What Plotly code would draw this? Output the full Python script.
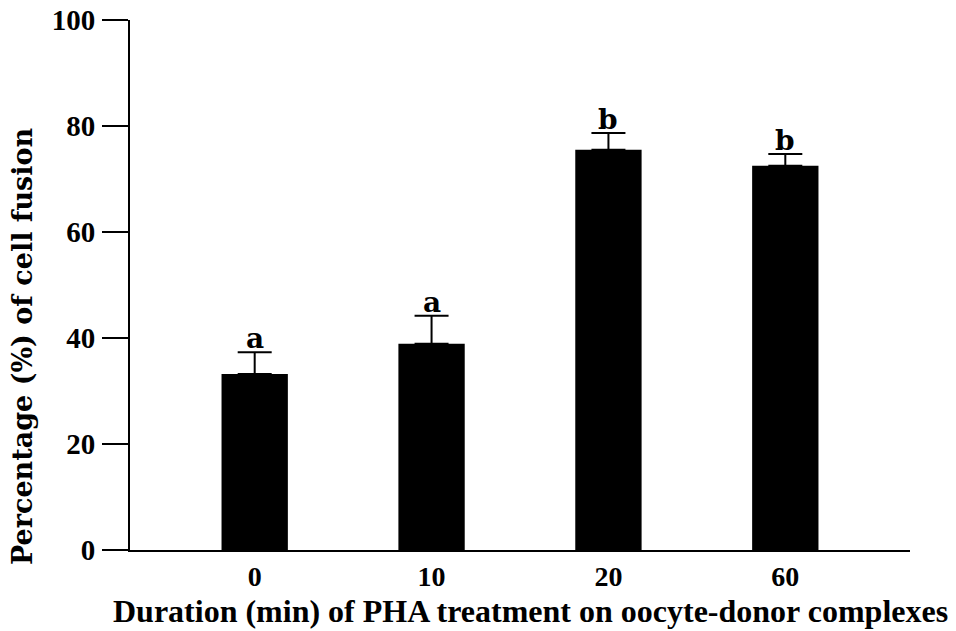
import plotly.graph_objects as go

categories = ["0", "10", "20", "60"]
means = [33.2, 38.9, 75.5, 72.5]
sem = [4.1, 5.3, 3.2, 2.2]
letters = ["a", "a", "b", "b"]

SERIF_W = "DejaVu Serif"
SERIF_N = "Liberation Serif"

fig = go.Figure()
fig.add_trace(go.Bar(
    x=categories, y=means, width=0.375,
    marker=dict(color="black", line=dict(color="black", width=0)),
    error_y=dict(type="data", symmetric=False, array=sem, arrayminus=[0]*len(sem),
                 color="black", thickness=2, width=17),
))
for i, (m, s, l) in enumerate(zip(means, sem, letters)):
    fig.add_annotation(x=i, xref="x", y=m + s, yref="y", text=l, showarrow=False,
                       yanchor="bottom", yshift=-5,
                       font=dict(family=SERIF_W, size=28, color="black", weight="bold"))

fig.add_annotation(text="Duration (min) of PHA treatment on oocyte-donor complexes",
                   xref="paper", yref="paper", x=0.5, y=0, xshift=10, yshift=-81,
                   xanchor="center", yanchor="bottom", showarrow=False,
                   font=dict(family=SERIF_N, size=32, color="black", weight="bold"))
fig.add_annotation(text="Percentage (%) of cell fusion",
                   xref="paper", yref="paper", x=0, y=0.5, xshift=-108, yshift=-61,
                   xanchor="center", yanchor="middle", textangle=-90, showarrow=False,
                   font=dict(family=SERIF_W, size=27, color="black", weight="bold"))

fig.update_layout(
    width=956, height=631,
    margin=dict(l=122, r=54, t=12, b=89),
    plot_bgcolor="white", paper_bgcolor="white",
    showlegend=False,
    xaxis=dict(type="category", range=[-0.705, 3.705], showline=True, linecolor="black",
               linewidth=2, ticks="", showgrid=False, zeroline=False, automargin=False,
               ticklabelstandoff=0,
               tickfont=dict(family=SERIF_N, size=28, color="black", weight="bold")),
    yaxis=dict(range=[0, 100], tickvals=[0, 20, 40, 60, 80, 100], showline=True,
               linecolor="black", linewidth=2, ticks="outside", ticklen=26, tickwidth=2,
               tickcolor="black", showgrid=False, zeroline=False, automargin=False,
               ticklabelstandoff=1, ticklabeloverflow="allow",
               tickfont=dict(family=SERIF_N, size=29, color="black", weight="bold")),
)
fig.write_html("out.html")
